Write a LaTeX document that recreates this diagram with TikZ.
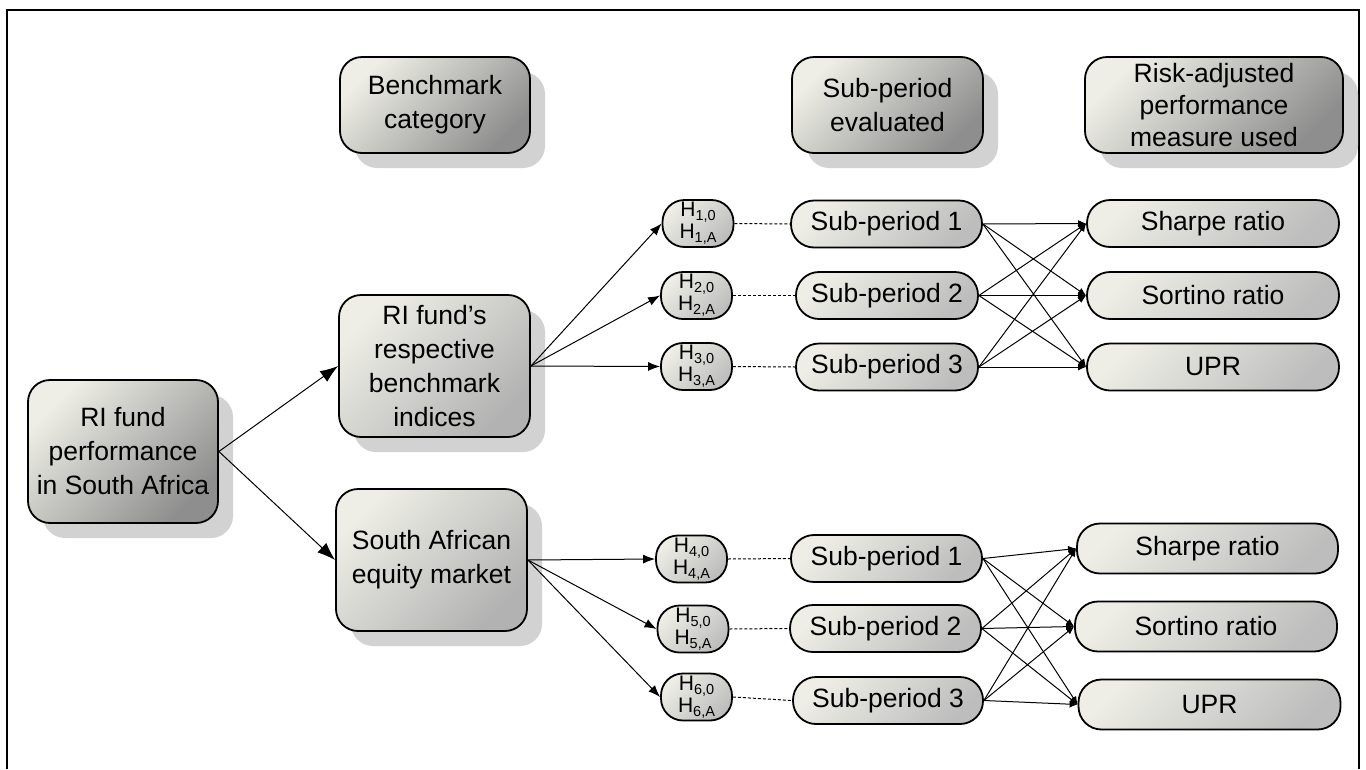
\documentclass[tikz,border=0pt]{standalone}
\usepackage{fontspec}
\setmainfont{Liberation Sans}
\usetikzlibrary{arrows.meta,shadows}
\definecolor{lite}{HTML}{EEEEE6}
\definecolor{darkg}{HTML}{8E8E8E}
\definecolor{midg}{HTML}{B2B2B2}
\definecolor{smallg}{HTML}{BDBDBD}
\definecolor{shadowg}{HTML}{D2D2D2}
\newcommand{\Hsub}[1]{H\raisebox{-0.2em}{\fontsize{14.5}{14.5}\selectfont #1}}
\tikzset{
  boxbase/.style={draw=black, line width=1.8pt, align=center, inner sep=0pt},
  bigfont/.style={font=\fontsize{26.5}{34}\selectfont},
  darkbox/.style={boxbase, bigfont, rounded corners=22pt,
    general shadow={fill=shadowg, shadow xshift=15pt, shadow yshift=-15pt},
    top color=lite, bottom color=darkg, shading angle=45},
  midbox/.style={boxbase, bigfont, rounded corners=22pt,
    general shadow={fill=shadowg, shadow xshift=15pt, shadow yshift=-15pt},
    top color=lite, bottom color=midg, shading angle=45},
  hbox/.style={boxbase, rounded corners=22pt, font=\fontsize{21}{22}\selectfont,
    minimum width=71pt, minimum height=47pt,
    top color=lite, bottom color=smallg, shading angle=45},
  pill/.style={boxbase, bigfont, rounded corners=23pt, minimum height=47pt,
    top color=lite, bottom color=smallg, shading angle=45},
  arrbig/.style={line width=1pt, -{Latex[length=18pt,width=13pt]}},
  arrmid/.style={line width=1pt, -{Latex[length=12pt,width=9pt]}},
  arrsmall/.style={line width=1pt, -{Latex[length=8pt,width=7pt]}},
  dashline/.style={line width=1pt, dash pattern=on 3pt off 2pt},
}
\begin{document}
\begin{tikzpicture}[x=1pt,y=-1pt]
\useasboundingbox (0,0) rectangle (1366,769);
\draw[line width=1.5pt] (7,769) -- (7,10) -- (1359,10) -- (1359,769);

% headers
\node[darkbox, minimum width=190pt, minimum height=96pt] (hb) at (435,105) {Benchmark\\category};
\node[darkbox, minimum width=191pt, minimum height=96pt] (hs) at (887.5,105) {Sub-period\\evaluated};
\node[darkbox, minimum width=258pt, minimum height=96pt, font=\fontsize{26.5}{32}\selectfont] (hr) at (1214,105) {Risk-adjusted\\performance\\measure used};

% main boxes
\node[darkbox, minimum width=190pt, minimum height=143pt] (root) at (123,451.5) {RI fund\\performance\\in South Africa};
\node[midbox, minimum width=191pt, minimum height=142pt] (bench) at (434.5,366) {RI fund’s\\respective\\benchmark\\indices};
\node[midbox, minimum width=191pt, minimum height=142pt] (sa) at (431.5,560) {South African\\equity market};

% hypotheses
\node[hbox] (h1) at (698,223.5) {\Hsub{1,0}\\\Hsub{1,A}};
\node[hbox] (h2) at (696.5,295.5) {\Hsub{2,0}\\\Hsub{2,A}};
\node[hbox] (h3) at (696.5,366.5) {\Hsub{3,0}\\\Hsub{3,A}};
\node[hbox] (h4) at (691.5,559) {\Hsub{4,0}\\\Hsub{4,A}};
\node[hbox] (h5) at (693,629) {\Hsub{5,0}\\\Hsub{5,A}};
\node[hbox] (h6) at (696.5,697) {\Hsub{6,0}\\\Hsub{6,A}};

% sub-periods
\node[pill, minimum width=191pt] (s1) at (886.5,224) {Sub-period 1};
\node[pill, minimum width=182pt] (s2) at (887,295.5) {Sub-period 2};
\node[pill, minimum width=182pt] (s3) at (887,367) {Sub-period 3};
\node[pill, minimum width=191pt] (s4) at (886.5,558.5) {Sub-period 1};
\node[pill, minimum width=191pt] (s5) at (885.5,628.5) {Sub-period 2};
\node[pill, minimum width=190pt] (s6) at (888,700.5) {Sub-period 3};

% measures
\node[pill, minimum width=252pt] (m1) at (1213,223.5) {Sharpe ratio};
\node[pill, minimum width=252pt] (m2) at (1213,295.5) {Sortino ratio};
\node[pill, minimum width=252pt] (m3) at (1213,367) {UPR};
\node[pill, minimum width=261pt, minimum height=50pt] (m4) at (1207.5,548.5) {Sharpe ratio};
\node[pill, minimum width=262pt, minimum height=50pt] (m5) at (1206,626.5) {Sortino ratio};
\node[pill, minimum width=262pt, minimum height=50pt] (m6) at (1209.5,704.5) {UPR};

% connectors
\draw[arrbig] (root.east) -- (bench.west);
\draw[arrbig] (root.east) -- (sa.west);
\foreach \h in {h1,h2,h3} \draw[arrmid] (bench.east) -- (\h.west);
\foreach \h in {h4,h5,h6} \draw[arrmid] (sa.east) -- (\h.west);
\foreach \h/\s in {h1/s1,h2/s2,h3/s3,h4/s4,h5/s5,h6/s6} \draw[dashline] (\h.east) -- (\s.west);
\foreach \s in {s1,s2,s3} \foreach \m in {m1,m2,m3} \draw[arrsmall] (\s.east) -- (\m.west);
\foreach \s in {s4,s5,s6} \foreach \m in {m4,m5,m6} \draw[arrsmall] (\s.east) -- (\m.west);
\end{tikzpicture}
\end{document}
